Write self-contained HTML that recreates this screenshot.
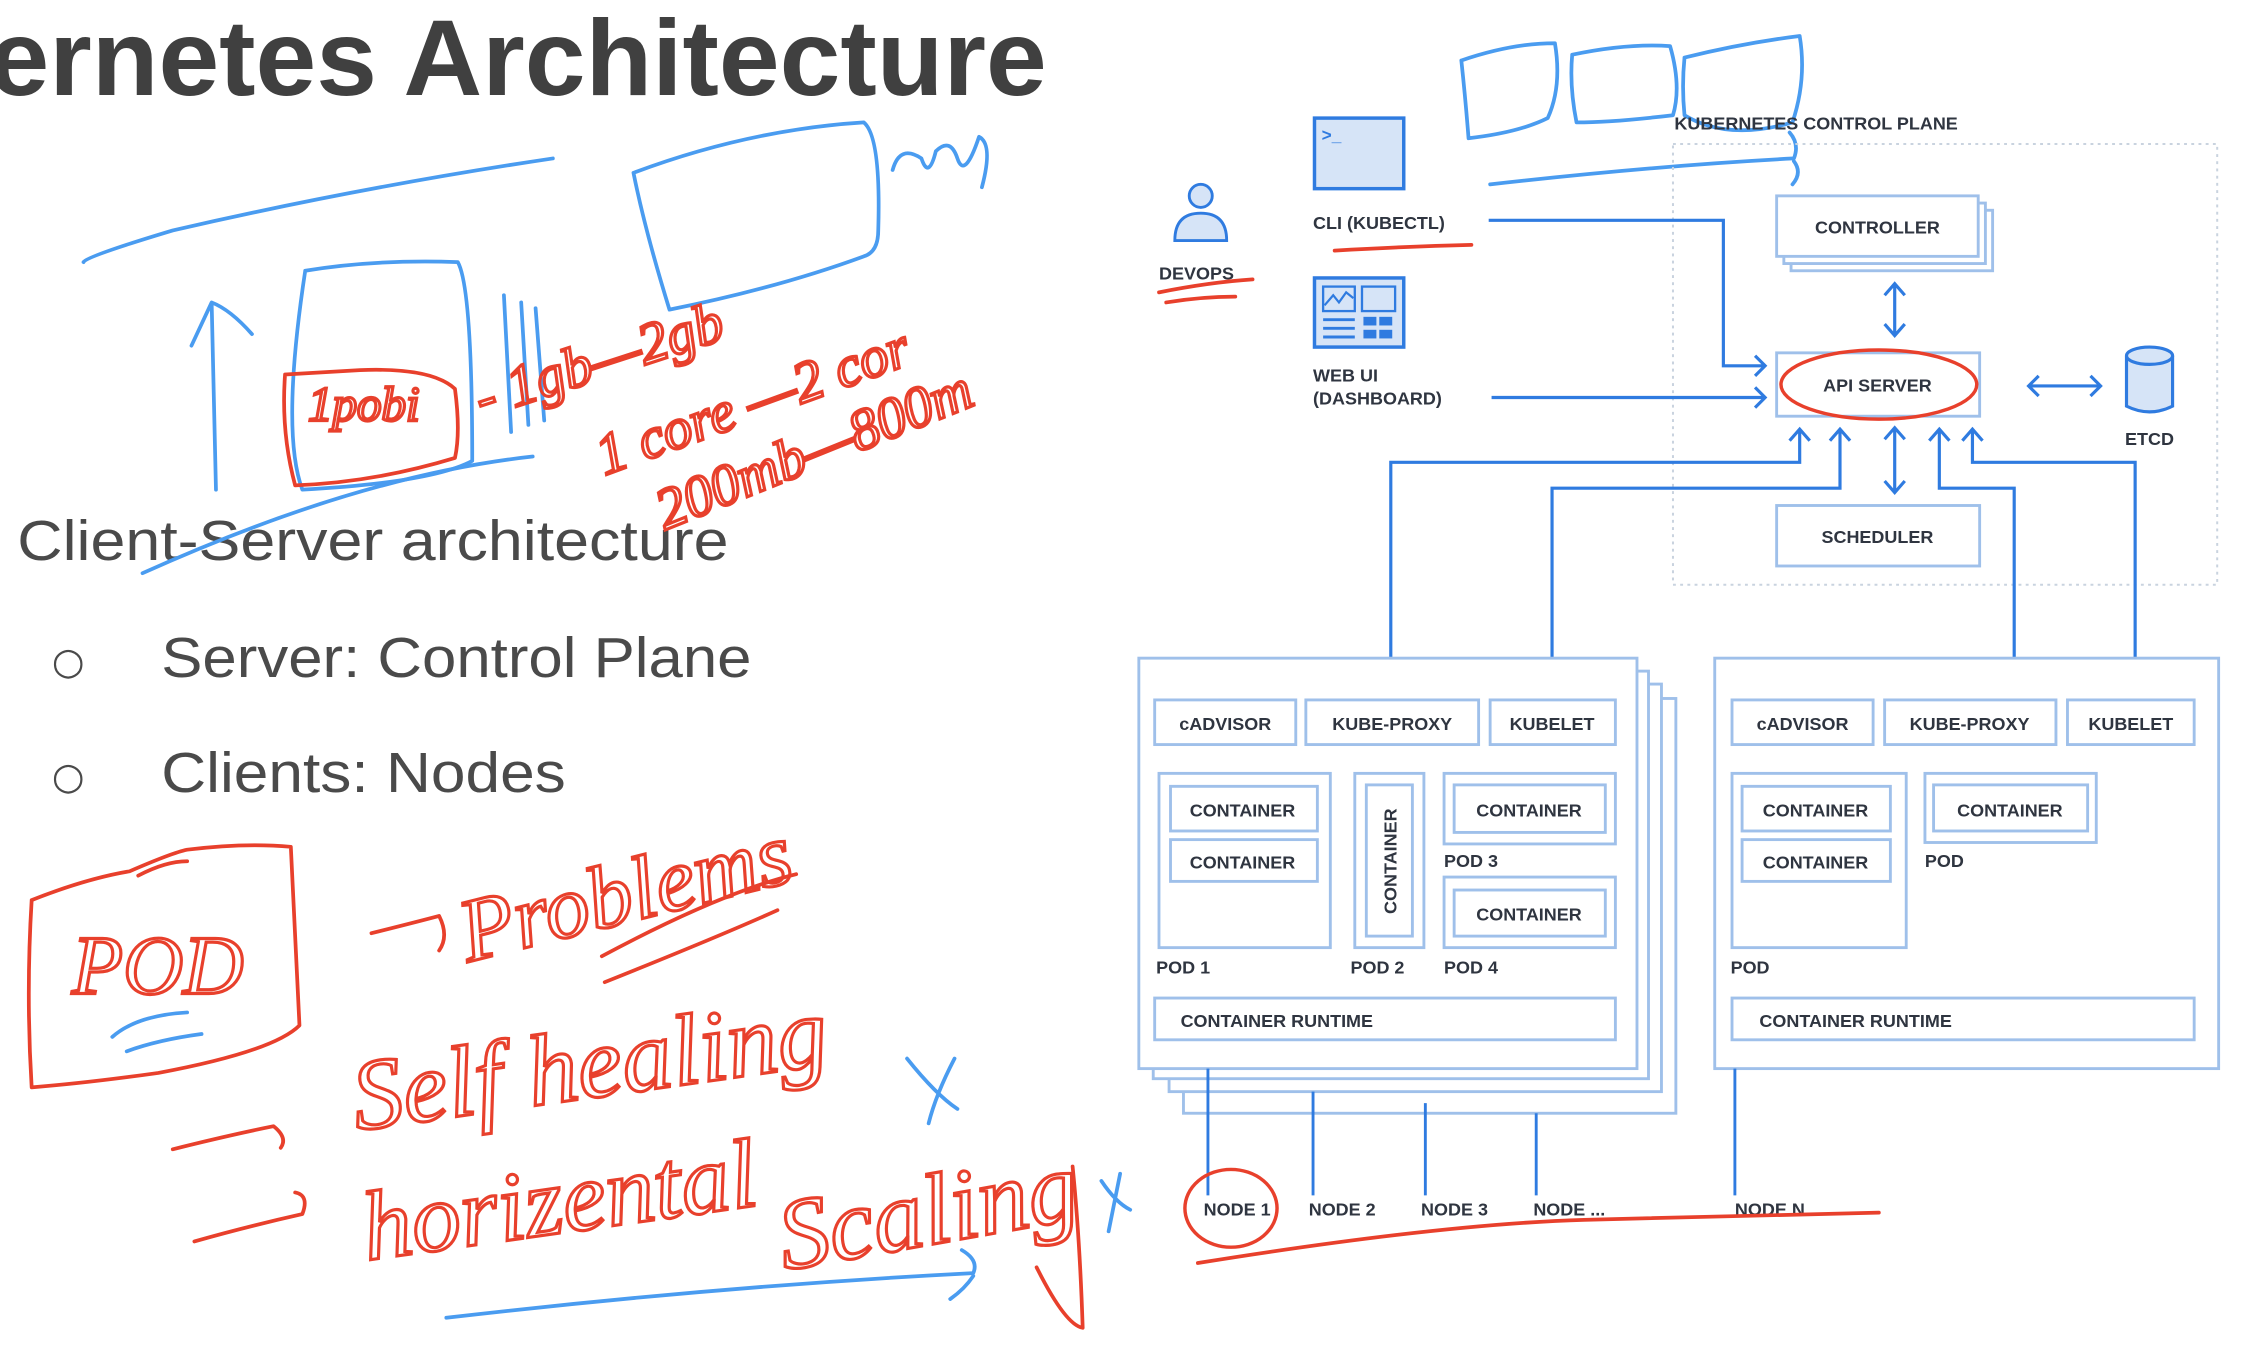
<!DOCTYPE html>
<html><head><meta charset="utf-8"><style>
html,body{margin:0;padding:0;background:#fff}
svg{display:block}
.t{font-family:"Liberation Sans",sans-serif;font-weight:bold;font-size:12.5px;fill:#2f3540}
.bx{fill:#fff;stroke:#9fc0ea;stroke-width:2}
.ln{fill:none;stroke:#2f7be0;stroke-width:2.2}
.hr{fill:none;stroke:#e8402c;stroke-width:2.6;stroke-linecap:round;stroke-linejoin:round}
.hb{fill:none;stroke:#4a9cf0;stroke-width:2.6;stroke-linecap:round;stroke-linejoin:round}
.hwr{font-family:"Liberation Serif",serif;font-style:italic;fill:none;stroke:#e8402c;stroke-width:2.2}
.hwb{font-family:"Liberation Serif",serif;font-style:italic;fill:none;stroke:#4a9cf0;stroke-width:2.2}
</style></head><body>
<svg width="2246" height="1348" viewBox="0 0 1560 936" preserveAspectRatio="none" xmlns="http://www.w3.org/2000/svg">
<rect width="1560" height="936" fill="#fff"/>
<!-- left text -->
<text x="-8" y="66" font-family="Liberation Sans,sans-serif" font-weight="bold" font-size="75" fill="#404040" textLength="735" lengthAdjust="spacingAndGlyphs">ernetes Architecture</text>
<text x="12" y="389" font-family="Liberation Sans,sans-serif" font-size="39" fill="#4a4a4a" textLength="494" lengthAdjust="spacingAndGlyphs">Client-Server architecture</text>
<text x="36" y="468" font-family="DejaVu Sans,sans-serif" font-size="26" fill="#4a4a4a">○</text>
<text x="112" y="470" font-family="Liberation Sans,sans-serif" font-size="39" fill="#4a4a4a" textLength="410" lengthAdjust="spacingAndGlyphs">Server: Control Plane</text>
<text x="36" y="548" font-family="DejaVu Sans,sans-serif" font-size="26" fill="#4a4a4a">○</text>
<text x="112" y="550" font-family="Liberation Sans,sans-serif" font-size="39" fill="#4a4a4a" textLength="281" lengthAdjust="spacingAndGlyphs">Clients: Nodes</text>

<!-- left handwriting -->
<path class="hb" d="M58,182 Q60,178 120,160 Q250,130 384,110"/>
<path class="hb" d="M440,120 Q520,90 600,85 Q612,95 610,160 Q610,175 600,178 Q540,200 465,215 Q448,160 440,120"/>
<path class="hb" d="M620,118 Q625,100 640,110 Q645,125 650,105 Q660,95 665,110 Q670,125 680,95 Q690,100 682,130"/>
<path class="hb" d="M150,340 L147,210 Q140,225 133,240 M147,210 Q160,215 175,232"/>
<path class="hb" d="M212,188 Q260,180 318,182 Q328,200 328,320 Q300,335 210,340 Q195,300 212,188"/>
<path class="hb" d="M350,205 L355,300 M362,210 L367,295 M372,214 L378,292"/>
<path class="hb" d="M99,398 Q250,330 370,317"/>
<path class="hr" d="M198,260 L250,257 Q300,255 316,270 Q320,300 316,318 Q260,335 205,337 Q195,300 198,260"/>
<text class="hwr" x="214" y="292" font-size="34">1pobi</text>
<text class="hwr" x="335" y="290" font-size="40" transform="rotate(-18 335 290)">- 1gb—2gb</text>
<text class="hwr" x="420" y="330" font-size="40" transform="rotate(-20 420 330)">1 core —2 cor</text>
<text class="hwr" x="462" y="368" font-size="40" transform="rotate(-22 462 368)">200mb—800m</text>

<path class="hr" d="M22,625 Q60,610 90,605 Q120,592 130,590 Q170,585 202,588 Q205,650 208,712 Q190,730 110,745 Q60,752 22,755 Q18,690 22,625"/>
<path class="hr" d="M96,608 Q115,598 130,598"/>
<text class="hwr" x="50" y="690" font-size="58">POD</text>
<path class="hb" d="M78,720 Q95,705 130,703 M88,730 Q110,722 140,718"/>
<path class="hr" d="M258,648 Q290,640 305,636 Q312,650 305,660"/>
<text class="hwr" x="325" y="668" font-size="62" transform="rotate(-14 325 668)">Problems</text>
<path class="hr" d="M418,664 Q500,620 553,607 M420,682 Q500,650 540,632"/>
<path class="hr" d="M120,798 Q160,788 190,782 Q200,790 195,797"/>
<text class="hwr" x="248" y="785" font-size="70" transform="rotate(-8 248 785)">Self healing</text>
<path class="hb" d="M630,735 Q650,760 665,770 M663,735 Q650,760 645,780"/>
<path class="hr" d="M135,862 Q170,852 210,843 Q215,830 205,828"/>
<text class="hwr" x="255" y="875" font-size="68" transform="rotate(-8 255 875)">horizental</text>
<text class="hwr" x="545" y="882" font-size="70" transform="rotate(-10 545 882)">Scaling</text>
<path class="hr" d="M720,880 Q740,920 752,922 Q750,860 745,810"/>
<path class="hb" d="M765,820 Q775,835 785,840 M778,815 L770,855"/>
<path class="hb" d="M310,915 Q500,893 676,884 Q680,875 668,868 M676,886 Q670,895 660,902"/>

<!-- top handwriting blue PODs -->
<path class="hb" d="M1015,42 Q1050,30 1080,30 Q1085,60 1075,82 Q1055,92 1020,96 Q1018,70 1015,42"/>
<path class="hb" d="M1092,38 Q1130,30 1160,32 Q1168,60 1162,80 Q1120,85 1095,85 Q1090,60 1092,38"/>
<path class="hb" d="M1170,40 Q1210,30 1250,25 Q1255,55 1245,85 Q1200,98 1170,80 Q1168,60 1170,40"/>
<path class="hb" d="M1035,128 Q1150,115 1246,110 Q1250,100 1243,92 M1246,112 Q1252,120 1245,128"/>

<!-- control plane -->
<rect x="1162" y="100" width="378" height="306" fill="none" stroke="#c9d3df" stroke-width="1.4" stroke-dasharray="2,3"/>
<text class="t" x="1163" y="90">KUBERNETES CONTROL PLANE</text>

<!-- devops -->
<circle cx="834" cy="136" r="8" fill="#d6e4f7" stroke="#2f7be0" stroke-width="2"/>
<path d="M816,167 Q816,148 834,148 Q852,148 852,167 Z" fill="#d6e4f7" stroke="#2f7be0" stroke-width="2"/>
<text class="t" x="805" y="194">DEVOPS</text>
<path class="hr" d="M805,203 Q840,196 870,194 M810,210 Q835,206 858,206"/>
<!-- cli -->
<rect x="913" y="82" width="62" height="49" fill="#d6e4f7" stroke="#2f7be0" stroke-width="2.4"/>
<text x="918" y="98" font-family="Liberation Sans,sans-serif" font-weight="bold" font-size="12" fill="#2f7be0">&gt;_</text>
<text class="t" x="912" y="159">CLI (KUBECTL)</text>
<path class="hr" d="M927,174 Q980,171 1022,170"/>
<!-- web ui -->
<rect x="913" y="193" width="62" height="48" fill="#d6e4f7" stroke="#2f7be0" stroke-width="2.4"/>
<rect x="919" y="199" width="22" height="17" fill="none" stroke="#2f7be0" stroke-width="1.6"/>
<rect x="946" y="199" width="23" height="17" fill="none" stroke="#2f7be0" stroke-width="1.6"/>
<path d="M920,212 L926,205 L930,210 L935,203 L940,207" fill="none" stroke="#2f7be0" stroke-width="1.5"/>
<path d="M919,222 H941 M919,228 H941 M919,234 H941" stroke="#2f7be0" stroke-width="2"/>
<rect x="947" y="220" width="9" height="6" fill="#2f7be0"/><rect x="958" y="220" width="9" height="6" fill="#2f7be0"/>
<rect x="947" y="229" width="9" height="6" fill="#2f7be0"/><rect x="958" y="229" width="9" height="6" fill="#2f7be0"/>
<text class="t" x="912" y="265">WEB UI</text>
<text class="t" x="912" y="281">(DASHBOARD)</text>

<!-- controller -->
<rect class="bx" x="1244" y="146" width="140" height="42"/>
<rect class="bx" x="1239" y="141" width="140" height="42"/>
<rect class="bx" x="1234" y="136" width="140" height="42"/>
<text class="t" x="1304" y="162" text-anchor="middle">CONTROLLER</text>
<path class="ln" d="M1316,198 V232 M1309,205 L1316,197 L1323,205 M1309,225 L1316,233 L1323,225"/>
<!-- api -->
<rect class="bx" x="1234" y="245" width="141" height="44"/>
<text class="t" x="1304" y="272" text-anchor="middle">API SERVER</text>
<ellipse cx="1305" cy="267" rx="68" ry="24" fill="none" stroke="#e8402c" stroke-width="2.4"/>
<!-- etcd -->
<path d="M1477,247 V282 Q1493,290 1509,282 V247" fill="#d6e4f7" stroke="#2f7be0" stroke-width="2.2"/>
<ellipse cx="1493" cy="247" rx="16" ry="6" fill="#d6e4f7" stroke="#2f7be0" stroke-width="2.2"/>
<text class="t" x="1476" y="309">ETCD</text>
<path class="ln" d="M1409,268 H1459 M1416,261 L1409,268 L1416,275 M1452,261 L1459,268 L1452,275"/>
<!-- cli/web lines -->
<path class="ln" d="M1034,153 H1197 V254 H1226 M1219,247 L1226,254 L1219,261"/>
<path class="ln" d="M1036,276 H1226 M1219,269 L1226,276 L1219,283"/>
<!-- scheduler -->
<rect class="bx" x="1234" y="351" width="141" height="42"/>
<text class="t" x="1304" y="377" text-anchor="middle">SCHEDULER</text>
<path class="ln" d="M1316,298 V341 M1309,305 L1316,297 L1323,305 M1309,334 L1316,342 L1323,334"/>
<!-- up arrows and lines -->
<path class="ln" d="M966,470 V321 H1250 V298 M1243,306 L1250,298 L1257,306"/>
<path class="ln" d="M1078,470 V339 H1278 V298 M1271,306 L1278,298 L1285,306"/>
<path class="ln" d="M1399,470 V339 H1347 V298 M1340,306 L1347,298 L1354,306"/>
<path class="ln" d="M1483,470 V321 H1370 V298 M1363,306 L1370,298 L1377,306"/>
<path class="ln" d="M959,463 L966,471 L973,463 M1071,463 L1078,471 L1085,463 M1392,463 L1399,471 L1406,463 M1476,463 L1483,471 L1490,463"/>

<!-- node stack -->
<rect class="bx" x="822" y="485" width="342" height="288"/>
<rect class="bx" x="812" y="475" width="342" height="283"/>
<rect class="bx" x="801" y="466" width="344" height="283"/>
<rect class="bx" x="791" y="457" width="346" height="285"/>
<rect class="bx" x="802" y="486" width="98" height="31"/><text class="t" x="851" y="507" text-anchor="middle">cADVISOR</text>
<rect class="bx" x="907" y="486" width="120" height="31"/><text class="t" x="967" y="507" text-anchor="middle">KUBE-PROXY</text>
<rect class="bx" x="1035" y="486" width="87" height="31"/><text class="t" x="1078" y="507" text-anchor="middle">KUBELET</text>
<rect class="bx" x="805" y="537" width="119" height="121"/>
<rect class="bx" x="813" y="546" width="102" height="31"/><text class="t" x="863" y="567" text-anchor="middle">CONTAINER</text>
<rect class="bx" x="813" y="583" width="102" height="29"/><text class="t" x="863" y="603" text-anchor="middle">CONTAINER</text>
<rect class="bx" x="941" y="537" width="48" height="121"/>
<rect class="bx" x="949" y="545" width="32" height="105"/>
<text class="t" x="970" y="598" text-anchor="middle" transform="rotate(-90 970 598)">CONTAINER</text>
<rect class="bx" x="1003" y="537" width="119" height="49"/>
<rect class="bx" x="1010" y="545" width="105" height="33"/><text class="t" x="1062" y="567" text-anchor="middle">CONTAINER</text>
<text class="t" x="1003" y="602">POD 3</text>
<rect class="bx" x="1003" y="609" width="119" height="49"/>
<rect class="bx" x="1010" y="618" width="105" height="32"/><text class="t" x="1062" y="639" text-anchor="middle">CONTAINER</text>
<text class="t" x="803" y="676">POD 1</text><text class="t" x="938" y="676">POD 2</text><text class="t" x="1003" y="676">POD 4</text>
<rect class="bx" x="802" y="693" width="320" height="29"/><text class="t" x="820" y="713">CONTAINER RUNTIME</text>

<!-- node N -->
<rect class="bx" x="1191" y="457" width="350" height="285"/>
<rect class="bx" x="1203" y="486" width="98" height="31"/><text class="t" x="1252" y="507" text-anchor="middle">cADVISOR</text>
<rect class="bx" x="1309" y="486" width="119" height="31"/><text class="t" x="1368" y="507" text-anchor="middle">KUBE-PROXY</text>
<rect class="bx" x="1436" y="486" width="88" height="31"/><text class="t" x="1480" y="507" text-anchor="middle">KUBELET</text>
<rect class="bx" x="1203" y="537" width="121" height="121"/>
<rect class="bx" x="1210" y="546" width="103" height="31"/><text class="t" x="1261" y="567" text-anchor="middle">CONTAINER</text>
<rect class="bx" x="1210" y="583" width="103" height="29"/><text class="t" x="1261" y="603" text-anchor="middle">CONTAINER</text>
<rect class="bx" x="1337" y="537" width="119" height="48"/>
<rect class="bx" x="1343" y="545" width="107" height="32"/><text class="t" x="1396" y="567" text-anchor="middle">CONTAINER</text>
<text class="t" x="1337" y="602">POD</text><text class="t" x="1202" y="676">POD</text>
<rect class="bx" x="1203" y="693" width="321" height="29"/><text class="t" x="1222" y="713">CONTAINER RUNTIME</text>

<!-- node lines -->
<path d="M839,742 V830 M912,758 V830 M990,766 V830 M1067,773 V830 M1205,742 V830" stroke="#2f7be0" stroke-width="2" fill="none"/>
<text class="t" x="836" y="844">NODE 1</text><text class="t" x="909" y="844">NODE 2</text><text class="t" x="987" y="844">NODE 3</text><text class="t" x="1065" y="844">NODE ...</text><text class="t" x="1205" y="844">NODE N</text>
<ellipse cx="855" cy="839" rx="32" ry="27" fill="none" stroke="#e8402c" stroke-width="2.4"/>
<path class="hr" d="M832,877 Q1000,850 1100,847 Q1200,845 1305,842"/>
</svg>
</body></html>
